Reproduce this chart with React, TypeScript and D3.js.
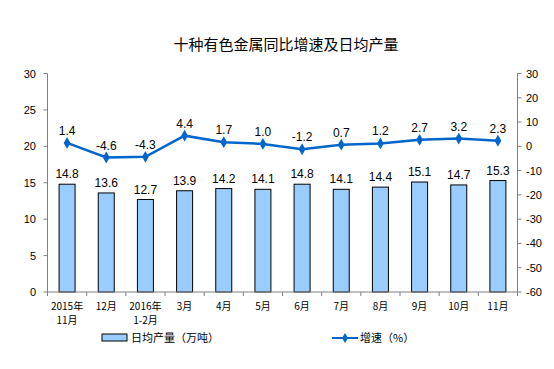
import React from "react";
import * as d3 from "d3";

const categories = ["2015年\n11月", "12月", "2016年\n1-2月", "3月", "4月", "5月", "6月", "7月", "8月", "9月", "10月", "11月"];
const output = [14.8, 13.6, 12.7, 13.9, 14.2, 14.1, 14.8, 14.1, 14.4, 15.1, 14.7, 15.3];
const growth = [1.4, -4.6, -4.3, 4.4, 1.7, 1.0, -1.2, 0.7, 1.2, 2.7, 3.2, 2.3];
const leftTicks = [0, 5, 10, 15, 20, 25, 30];
const rightTicks = [-60, -50, -40, -30, -20, -10, 0, 10, 20, 30];

const W = 554, H = 369;
const M = { left: 47.5, right: 517.5, top: 73.5, bottom: 292 };
const NUM = "'Liberation Sans', Arial, sans-serif";
const CJK = "'Noto Sans CJK SC', sans-serif";
const LINE = "#0066CC";
const BAR = "#99CCFF";

export default function App() {
  const x = d3.scaleBand<number>().domain(d3.range(categories.length)).range([M.left, M.right]);
  const yL = d3.scaleLinear().domain([0, 30]).range([M.bottom, M.top]);
  const yR = d3.scaleLinear().domain([-60, 30]).range([M.bottom, M.top]);
  const bw = 16;
  const cx = (i: number) => (x(i) as number) + x.bandwidth() / 2;
  const line = d3.line<number>().x((_, i) => cx(i)).y((d) => yR(d));

  return (
    <svg width={W} height={H} style={{ position: "absolute", left: 0, top: 0, background: "#fff" }}>
      <text x={286} y={50} textAnchor="middle" fontFamily={CJK} fontSize={15} fill="#000">十种有色金属同比增速及日均产量</text>
      {/* bars */}
      {output.map((v, i) => (
        <rect key={"b" + i} x={cx(i) - bw / 2} y={yL(v)} width={bw} height={M.bottom - yL(v)} fill={BAR} stroke="#000" strokeWidth={1} />
      ))}
      {output.map((v, i) => (
        <text key={"bl" + i} x={cx(i)} y={yL(v) - 6} textAnchor="middle" fontFamily={NUM} fontSize={12} fill="#000">{v.toFixed(1)}</text>
      ))}
      {/* axes */}
      <g stroke="#808080" strokeWidth={1} fill="none">
        <line x1={M.left} x2={M.left} y1={M.top} y2={M.bottom} />
        <line x1={M.right} x2={M.right} y1={M.top} y2={M.bottom} />
        <line x1={M.left} x2={M.right} y1={M.bottom} y2={M.bottom} />
        {leftTicks.map((t) => (
          <line key={"lt" + t} x1={M.left - 4} x2={M.left} y1={yL(t)} y2={yL(t)} />
        ))}
        {rightTicks.map((t) => (
          <line key={"rt" + t} x1={M.right} x2={M.right + 4} y1={yR(t)} y2={yR(t)} />
        ))}
        {d3.range(categories.length + 1).map((i) => {
          const xx = i < categories.length ? (x(i) as number) : M.right;
          return <line key={"xt" + i} x1={xx} x2={xx} y1={M.bottom} y2={M.bottom + 4} />;
        })}
      </g>
      {leftTicks.map((t) => (
        <text key={"ll" + t} x={36} y={yL(t) + 4} textAnchor="end" fontFamily={NUM} fontSize={11} fill="#000">{t}</text>
      ))}
      {rightTicks.map((t) => (
        <text key={"rl" + t} x={526} y={yR(t) + 4} textAnchor="start" fontFamily={NUM} fontSize={11} fill="#000">{t}</text>
      ))}
      {categories.map((c, i) => (
        <text key={"xl" + i} textAnchor="middle" fontFamily={CJK} fontSize={10} fill="#000">
          {c.split("\n").map((s, j) => (
            <tspan key={j} x={cx(i)} y={310 + j * 14}>{s}</tspan>
          ))}
        </text>
      ))}
      {/* line */}
      <path d={line(growth) || ""} fill="none" stroke={LINE} strokeWidth={2.5} />
      {growth.map((v, i) => (
        <path key={"m" + i} d={d3.symbol(d3.symbolDiamond, 40)() || ""} transform={`translate(${cx(i)},${yR(v)})`} fill={LINE} />
      ))}
      {growth.map((v, i) => (
        <text key={"gl" + i} x={cx(i)} y={yR(v) - 8} textAnchor="middle" fontFamily={NUM} fontSize={12} fill="#000">{v.toFixed(1)}</text>
      ))}
      {/* legend */}
      <rect x={102} y={334} width={25} height={7} fill={BAR} stroke="#000" strokeWidth={1} />
      <text x={131} y={342} fontFamily={CJK} fontSize={11} fill="#000">日均产量（万吨）</text>
      <line x1={332} x2={358} y1={338} y2={338} stroke={LINE} strokeWidth={2} />
      <path d={d3.symbol(d3.symbolDiamond, 30)() || ""} transform="translate(345,338)" fill={LINE} />
      <text x={360} y={342} fontFamily={CJK} fontSize={11} fill="#000">增速（%）</text>
    </svg>
  );
}
